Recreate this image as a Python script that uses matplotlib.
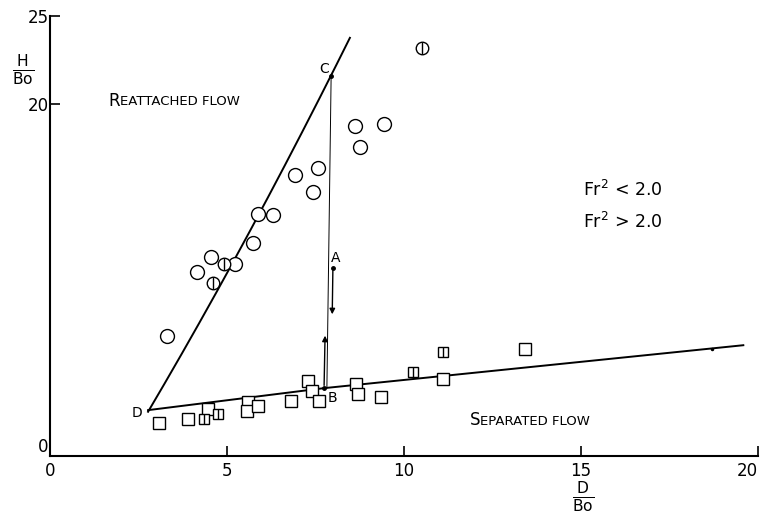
import numpy as np
import matplotlib
matplotlib.use("Agg")
import matplotlib.pyplot as plt

plt.rcParams['font.family'] = ['DejaVu Sans']

# reattached flow (circles), Fr^2 < 2.0
circ_x = [3.31, 4.15, 4.55, 5.23, 5.73, 5.88, 6.30, 6.92, 7.43, 7.57, 8.62, 8.76, 9.44]
circ_y = [6.82, 10.45, 11.3, 10.9, 12.1, 13.75, 13.7, 15.97, 15.0, 16.4, 18.75, 17.56, 18.86]
# circles with bar (Fr^2 > 2.0)
circb_x = [4.60, 4.92, 10.51]
circb_y = [9.83, 10.9, 23.2]

# separated flow (squares)
sq_x = [3.08, 3.90, 4.46, 5.59, 5.56, 5.88, 6.81, 7.29, 7.40, 7.60, 8.64, 8.70, 9.35, 11.10, 13.42]
sq_y = [1.875, 2.10, 2.67, 3.07, 2.56, 2.84, 3.13, 4.26, 3.69, 3.13, 4.09, 3.52, 3.35, 4.38, 6.08]
sqb_x = [4.35, 4.75, 10.25, 11.10]
sqb_y = [2.10, 2.39, 4.77, 5.91]

# boundary curves
upper_x = [2.77, 3.67, 4.44, 4.80, 5.85, 6.41, 7.94, 8.47]
upper_y = [2.61, 5.63, 8.13, 9.60, 13.8, 15.7, 21.6, 23.75]
lower_x = [2.77, 7.74, 19.58]
lower_y = [2.61, 3.86, 6.30]

pt_A = (7.99, 10.7)
pt_B = (7.74, 3.86)
pt_C = (7.94, 21.6)

fig = plt.figure(figsize=(7.64, 5.23), dpi=100)
ax = fig.add_axes([0.0654, 0.128, 0.927, 0.841])

# smooth upper curve
uxs = np.linspace(upper_x[0], upper_x[-1], 200)
coef = np.polyfit(upper_x, upper_y, 2)
ax.plot(uxs, np.polyval(coef, uxs), color='black', lw=1.4)
ax.plot(lower_x, lower_y, color='black', lw=1.4)

# C-B thin line and arrows
ax.plot([pt_C[0], pt_B[0] + 0.08], [pt_C[1], pt_B[1]], color='black', lw=0.7)
ax.annotate('', xy=(pt_A[0] - 0.02, 7.9), xytext=pt_A,
            arrowprops=dict(arrowstyle='-|>', color='black', lw=1.0, mutation_scale=8))
ax.annotate('', xy=(pt_B[0] + 0.03, 7.0), xytext=pt_B,
            arrowprops=dict(arrowstyle='-|>', color='black', lw=1.0, mutation_scale=8))
ax.plot([pt_A[0], pt_B[0], pt_C[0]], [pt_A[1], pt_B[1], pt_C[1]], 'o',
        color='black', ms=2.5)
ax.plot([18.7], [6.1], 'o', color='black', ms=1.5)

ax.plot(circ_x, circ_y, 'o', mfc='white', mec='black', ms=10, mew=1.0, ls='none')
ax.plot(circb_x, circb_y, 'o', mfc='white', mec='black', ms=9, mew=1.0, ls='none')
ax.plot(circb_x, circb_y, '|', color='black', ms=9, mew=1.0, ls='none')
ax.plot(sq_x, sq_y, 's', mfc='white', mec='black', ms=8, mew=1.0, ls='none')
ax.plot(sqb_x, sqb_y, 's', mfc='white', mec='black', ms=7.5, mew=1.0, ls='none')
ax.plot(sqb_x, sqb_y, '|', color='black', ms=7.5, mew=1.0, ls='none')

# point labels
ax.text(2.46, 2.44, 'D', fontsize=10, ha='center', va='center')
ax.text(7.75, 22.0, 'C', fontsize=10, ha='center', va='center')
ax.text(8.08, 11.25, 'A', fontsize=10, ha='center', va='center')
ax.text(7.98, 3.3, 'B', fontsize=10, ha='center', va='center')

# region labels in small caps
t1 = ax.text(1.64, 20.2, 'R', fontsize=12, va='center', ha='left')
ax.annotate('EATTACHED FLOW', xy=(1, 0.08), xycoords=t1, fontsize=9.5,
            va='bottom', ha='left')
t2 = ax.text(11.86, 2.05, 'S', fontsize=12, va='center', ha='left')
ax.annotate('EPARATED FLOW', xy=(1, 0.08), xycoords=t2, fontsize=9.5,
            va='bottom', ha='left')

ax.text(15.06, 15.1, r'Fr$^{2}$ < 2.0', fontsize=12.5, va='center', ha='left')
ax.text(15.06, 13.3, r'Fr$^{2}$ > 2.0', fontsize=12.5, va='center', ha='left')

ax.set_xlim(0, 20)
ax.set_ylim(0, 25)
ax.set_xticks([0, 5, 10, 15, 20])
ax.set_yticks([0, 20, 25])
ax.tick_params(direction='in', length=7, width=1.2, labelsize=12)
ax.tick_params(axis='y', pad=1)
ax.tick_params(axis='x', pad=4)
ax.spines['top'].set_visible(False)
ax.spines['right'].set_visible(False)
ax.spines['left'].set_linewidth(1.5)
ax.spines['bottom'].set_linewidth(1.5)
for lab in ax.get_xticklabels():
    if lab.get_text() == '20':
        lab.set_horizontalalignment('right')
for lab in ax.get_yticklabels():
    if lab.get_text() == '0':
        lab.set_verticalalignment('bottom')

fig.text(23 / 764, 1 - 70 / 523, r'$\frac{\mathrm{H}}{\mathrm{Bo}}$', fontsize=16,
         ha='center', va='center')
fig.text(583 / 764, 1 - 497 / 523, r'$\frac{\mathrm{D}}{\mathrm{Bo}}$', fontsize=16,
         ha='center', va='center')

fig.savefig('out.png', dpi=100)
